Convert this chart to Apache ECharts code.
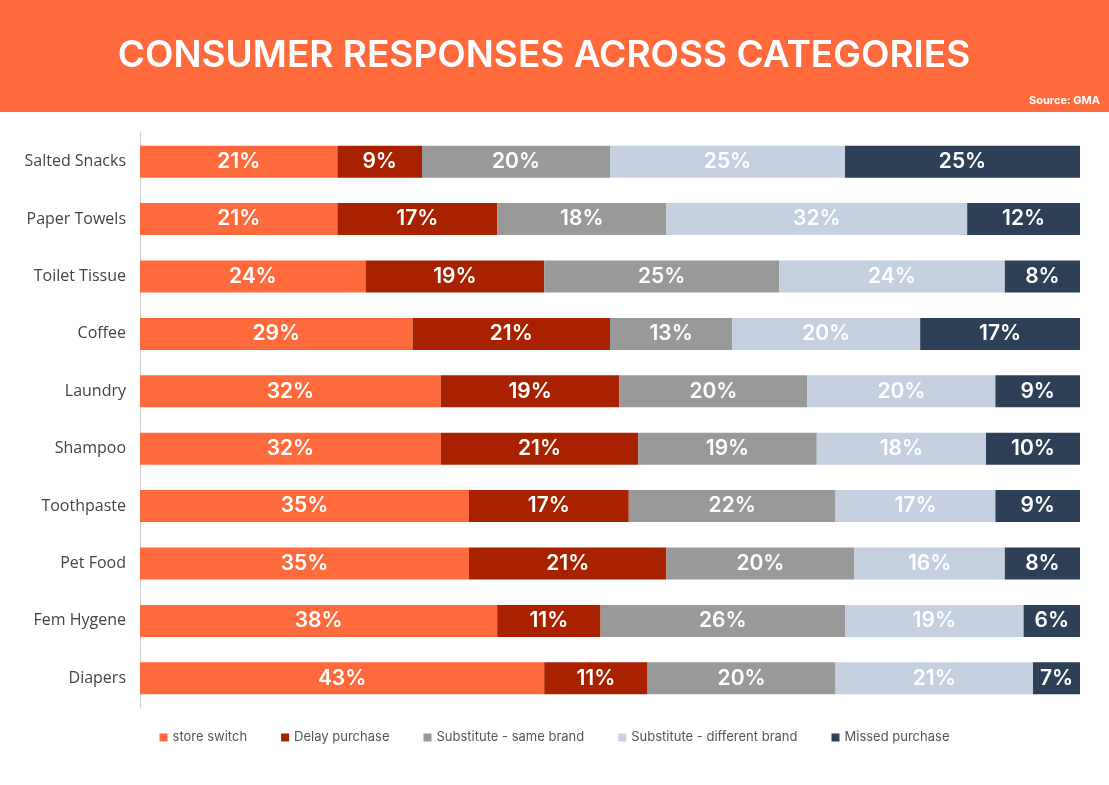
<!DOCTYPE html>
<html><head><meta charset="utf-8">
<script src="https://cdn.jsdelivr.net/npm/echarts@6/dist/echarts.min.js"></script>
<style>html,body{margin:0;padding:0;background:#fff}#c{width:1109px;height:785px}</style>
</head><body><div id="c"></div>
<script>
const categories = ["Salted Snacks","Paper Towels","Toilet Tissue","Coffee","Laundry","Shampoo","Toothpaste","Pet Food","Fem Hygene","Diapers"];
const seriesNames = ["store switch","Delay purchase","Substitute - same brand","Substitute - different brand","Missed purchase"];
const storeSwitch = [21,21,24,29,32,32,35,35,38,43];
const delayPurchase = [9,17,19,21,19,21,17,21,11,11];
const sameBrand = [20,18,25,13,20,19,22,20,26,20];
const differentBrand = [25,32,24,20,20,18,17,16,19,21];
const missedPurchase = [25,12,8,17,9,10,9,8,6,7];
const colors = ["#FF6A3D","#A82200","#999999","#C5D0E0","#2E4057"];
const data = [storeSwitch,delayPurchase,sameBrand,differentBrand,missedPurchase];
const chart = echarts.init(document.getElementById('c'));
chart.setOption({
  animation:false,
  graphic:[
    {type:'rect',shape:{x:0,y:0,width:1109,height:112},style:{fill:'#FF6A3D'}},
    {type:'text',x:544,y:56,style:{text:'CONSUMER RESPONSES ACROSS CATEGORIES',fill:'#fff',font:'600 37px Inter, sans-serif',textAlign:'center',textVerticalAlign:'middle'}},
    {type:'text',x:1100,y:101,style:{text:'Source: GMA',fill:'#fff',font:'bold 11px Inter, sans-serif',textAlign:'right',textVerticalAlign:'middle'}}
  ],
  grid:{left:140,right:29,top:133,bottom:78},
  legend:{bottom:36,left:'center',itemWidth:8,itemHeight:8,icon:'rect',itemGap:34,
    textStyle:{color:'#555',fontSize:13,fontFamily:'Inter, sans-serif'}},
  xAxis:{type:'value',min:0,max:100,show:false},
  yAxis:{type:'category',data:categories,inverse:true,
    axisLine:{lineStyle:{color:'#ccc'}},axisTick:{show:false},
    axisLabel:{color:'#444',fontSize:16,fontFamily:'Open Sans, sans-serif',margin:14}},
  series:seriesNames.map((n,i)=>({
    name:n,type:'bar',stack:'t',data:data[i],barWidth:32,clip:true,
    itemStyle:{color:colors[i]},
    label:{show:true,formatter:'{c}%',color:'#fff',fontSize:21,fontWeight:'600',fontFamily:'Inter, sans-serif'}
  }))
});
</script></body></html>
